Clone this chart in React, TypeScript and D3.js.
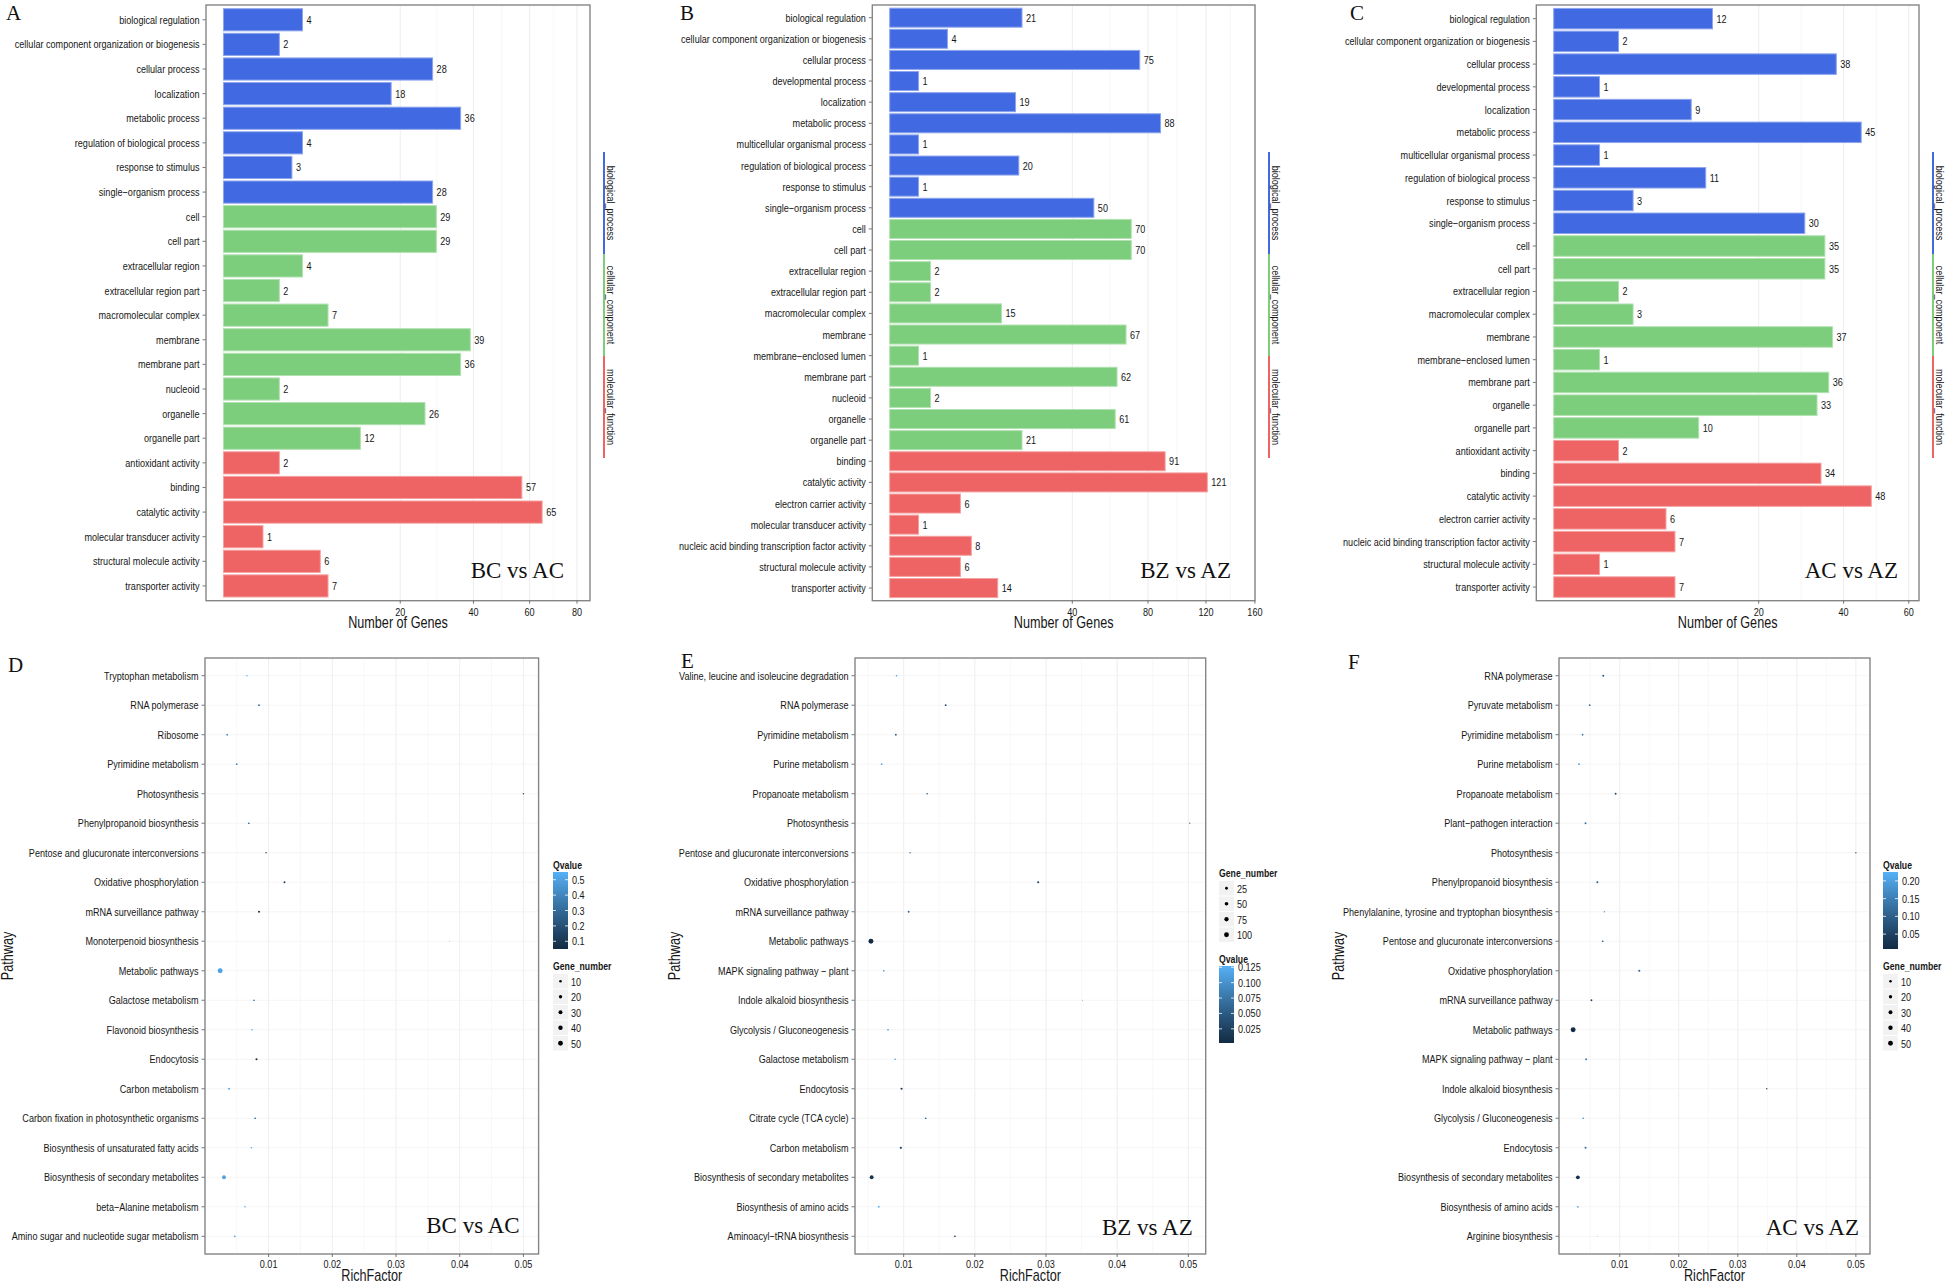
import React from "react";
import * as d3 from "d3";

const W = 1946;
const H = 1283;
const SANS = "'Liberation Sans', Arial, Helvetica, sans-serif";
const SERIF = "'Liberation Serif', 'Times New Roman', Times, serif";
const NARROW = 0.79; // the original labels are set in a condensed sans
const INK = "#161616";

const ONTOLOGY_COLOR: Record<string, string> = { BP: "#4169E1", CC: "#7CCD7C", MF: "#EE6363" };
const ONTOLOGY_NAMES = ["biological_process", "cellular_component", "molecular_function"];

// ---- GO classification, BC vs AC ----
const goTermsA = [
  "biological regulation", "cellular component organization or biogenesis", "cellular process",
  "localization", "metabolic process", "regulation of biological process", "response to stimulus",
  "single\u2212organism process", "cell", "cell part", "extracellular region", "extracellular region part",
  "macromolecular complex", "membrane", "membrane part", "nucleoid", "organelle", "organelle part",
  "antioxidant activity", "binding", "catalytic activity", "molecular transducer activity",
  "structural molecule activity", "transporter activity",
];
const goGenesA = [4, 2, 28, 18, 36, 4, 3, 28, 29, 29, 4, 2, 7, 39, 36, 2, 26, 12, 2, 57, 65, 1, 6, 7];
const goClassA = [
  "BP", "BP", "BP", "BP", "BP", "BP", "BP", "BP",
  "CC", "CC", "CC", "CC", "CC", "CC", "CC", "CC", "CC", "CC",
  "MF", "MF", "MF", "MF", "MF", "MF",
];
const goTicksA = [20, 40, 60, 80];

// ---- GO classification, BZ vs AZ ----
const goTermsB = [
  "biological regulation", "cellular component organization or biogenesis", "cellular process",
  "developmental process", "localization", "metabolic process", "multicellular organismal process",
  "regulation of biological process", "response to stimulus", "single\u2212organism process",
  "cell", "cell part", "extracellular region", "extracellular region part", "macromolecular complex",
  "membrane", "membrane\u2212enclosed lumen", "membrane part", "nucleoid", "organelle", "organelle part",
  "binding", "catalytic activity", "electron carrier activity", "molecular transducer activity",
  "nucleic acid binding transcription factor activity", "structural molecule activity", "transporter activity",
];
const goGenesB = [21, 4, 75, 1, 19, 88, 1, 20, 1, 50, 70, 70, 2, 2, 15, 67, 1, 62, 2, 61, 21, 91, 121, 6, 1, 8, 6, 14];
const goClassB = [
  "BP", "BP", "BP", "BP", "BP", "BP", "BP", "BP", "BP", "BP",
  "CC", "CC", "CC", "CC", "CC", "CC", "CC", "CC", "CC", "CC", "CC",
  "MF", "MF", "MF", "MF", "MF", "MF", "MF",
];
const goTicksB = [40, 80, 120, 160];

// ---- GO classification, AC vs AZ ----
const goTermsC = [
  "biological regulation", "cellular component organization or biogenesis", "cellular process",
  "developmental process", "localization", "metabolic process", "multicellular organismal process",
  "regulation of biological process", "response to stimulus", "single\u2212organism process",
  "cell", "cell part", "extracellular region", "macromolecular complex", "membrane",
  "membrane\u2212enclosed lumen", "membrane part", "organelle", "organelle part",
  "antioxidant activity", "binding", "catalytic activity", "electron carrier activity",
  "nucleic acid binding transcription factor activity", "structural molecule activity", "transporter activity",
];
const goGenesC = [12, 2, 38, 1, 9, 45, 1, 11, 3, 30, 35, 35, 2, 3, 37, 1, 36, 33, 10, 2, 34, 48, 6, 7, 1, 7];
const goClassC = [
  "BP", "BP", "BP", "BP", "BP", "BP", "BP", "BP", "BP", "BP",
  "CC", "CC", "CC", "CC", "CC", "CC", "CC", "CC", "CC",
  "MF", "MF", "MF", "MF", "MF", "MF", "MF",
];
const goTicksC = [20, 40, 60];

// ---- KEGG enrichment, BC vs AC ----
const pathwaysD = [
  "Tryptophan metabolism", "RNA polymerase", "Ribosome", "Pyrimidine metabolism", "Photosynthesis",
  "Phenylpropanoid biosynthesis", "Pentose and glucuronate interconversions", "Oxidative phosphorylation",
  "mRNA surveillance pathway", "Monoterpenoid biosynthesis", "Metabolic pathways", "Galactose metabolism",
  "Flavonoid biosynthesis", "Endocytosis", "Carbon metabolism", "Carbon fixation in photosynthetic organisms",
  "Biosynthesis of unsaturated fatty acids", "Biosynthesis of secondary metabolites",
  "beta\u2212Alanine metabolism", "Amino sugar and nucleotide sugar metabolism",
];
const richD = [0.0066, 0.0085, 0.0035, 0.005, 0.05, 0.0069, 0.0096, 0.0125, 0.0085, 0.0384,
  0.0024, 0.0077, 0.0074, 0.0081, 0.0038, 0.0079, 0.0073, 0.003, 0.0063, 0.0047];
const genesD = [2, 3, 4, 3, 2, 3, 2, 4, 5, 1, 52, 3, 2, 5, 4, 3, 2, 30, 2, 3];
const qvalD = [0.55, 0.25, 0.45, 0.4, 0.2, 0.3, 0.15, 0.12, 0.08, 0.55, 0.5, 0.35, 0.5, 0.05, 0.5, 0.3, 0.5, 0.5, 0.52, 0.48];
const qTicksD = [0.1, 0.2, 0.3, 0.4, 0.5];
const sizeTicksD = [10, 20, 30, 40, 50];

// ---- KEGG enrichment, BZ vs AZ ----
const pathwaysE = [
  "Valine, leucine and isoleucine degradation", "RNA polymerase", "Pyrimidine metabolism", "Purine metabolism",
  "Propanoate metabolism", "Photosynthesis", "Pentose and glucuronate interconversions",
  "Oxidative phosphorylation", "mRNA surveillance pathway", "Metabolic pathways",
  "MAPK signaling pathway \u2212 plant", "Indole alkaloid biosynthesis", "Glycolysis / Gluconeogenesis",
  "Galactose metabolism", "Endocytosis", "Citrate cycle (TCA cycle)", "Carbon metabolism",
  "Biosynthesis of secondary metabolites", "Biosynthesis of amino acids", "Aminoacyl\u2212tRNA biosynthesis",
];
const richE = [0.009, 0.0159, 0.0089, 0.0069, 0.0133, 0.0502, 0.0109, 0.0289, 0.0107, 0.0054,
  0.0072, 0.0351, 0.0078, 0.0088, 0.0097, 0.0131, 0.0096, 0.0055, 0.0065, 0.0172];
const genesE = [5, 7, 8, 6, 5, 3, 4, 10, 8, 105, 6, 2, 6, 5, 12, 6, 14, 58, 9, 7];
const qvalE = [0.11, 0.03, 0.06, 0.12, 0.05, 0.06, 0.07, 0.02, 0.06, 0.002, 0.11, 0.08, 0.1, 0.11, 0.02, 0.06, 0.03, 0.01, 0.127, 0.04];
const qTicksE = [0.025, 0.05, 0.075, 0.1, 0.125];
const sizeTicksE = [25, 50, 75, 100];

// ---- KEGG enrichment, AC vs AZ ----
const pathwaysF = [
  "RNA polymerase", "Pyruvate metabolism", "Pyrimidine metabolism", "Purine metabolism",
  "Propanoate metabolism", "Plant\u2212pathogen interaction", "Photosynthesis", "Phenylpropanoid biosynthesis",
  "Phenylalanine, tyrosine and tryptophan biosynthesis", "Pentose and glucuronate interconversions",
  "Oxidative phosphorylation", "mRNA surveillance pathway", "Metabolic pathways",
  "MAPK signaling pathway \u2212 plant", "Indole alkaloid biosynthesis", "Glycolysis / Gluconeogenesis",
  "Endocytosis", "Biosynthesis of secondary metabolites", "Biosynthesis of amino acids", "Arginine biosynthesis",
];
const richF = [0.0072, 0.0049, 0.0037, 0.0031, 0.0093, 0.0042, 0.05, 0.0062, 0.0074, 0.0071,
  0.0133, 0.0052, 0.0021, 0.0043, 0.0349, 0.0038, 0.0042, 0.0029, 0.0029, 0.0062];
const genesF = [4, 3, 3, 3, 4, 4, 2, 5, 2, 3, 6, 4, 52, 5, 2, 3, 5, 28, 3, 1];
const qvalF = [0.08, 0.12, 0.12, 0.2, 0.06, 0.12, 0.1, 0.1, 0.2, 0.09, 0.12, 0.05, 0.008, 0.15, 0.06, 0.2, 0.12, 0.02, 0.2, 0.225];
const qTicksF = [0.05, 0.1, 0.15, 0.2];
const sizeTicksF = [10, 20, 30, 40, 50];

const richTicks = [0.01, 0.02, 0.03, 0.04, 0.05];
const richMinor = [0.005, 0.015, 0.025, 0.035, 0.045];

function NText({ x, y, anchor = "start", size = 11.5, weight = "normal", fill = INK, rotate = 0, children }: any) {
  return (
    <text
      transform={`translate(${x},${y}) rotate(${rotate}) scale(${NARROW},1)`}
      textAnchor={anchor}
      fontFamily={SANS}
      fontSize={size}
      fontWeight={weight}
      fill={fill}
    >
      {children}
    </text>
  );
}

function GoBarPanel({ letter, letterAt, box, terms, genes, classes, ticks, tag, tagAt }: any) {
  const { left, right, top, bottom } = box;
  const y = d3.scaleBand().domain(terms).range([top, bottom]).paddingInner(0.1).paddingOuter(0.15);
  // sqrt axis, upper limit 1.2 x max, 5% expansion on each side
  const pad = ((right - left) * 0.05) / 1.1;
  const x = d3.scaleSqrt().domain([0, (d3.max(genes) as number) * 1.2]).range([left + pad, right - pad]);
  const minor = ticks.slice(1).map((t: number, i: number) => Math.pow((Math.sqrt(ticks[i]) + Math.sqrt(t)) / 2, 2));
  const stripX = right + 14;
  const stripTop = 152;
  const stripLen = 102;

  return (
    <g>
      <text x={letterAt[0]} y={letterAt[1]} fontFamily={SERIF} fontSize={21} fill="#111">{letter}</text>

      {minor.map((m: number) => (
        <line key={"mn" + m} x1={x(m)} x2={x(m)} y1={top} y2={bottom} stroke="#f4f4f4" strokeWidth={0.7} />
      ))}
      {ticks.map((t: number) => (
        <line key={"mj" + t} x1={x(t)} x2={x(t)} y1={top} y2={bottom} stroke="#ebebeb" strokeWidth={0.9} />
      ))}

      {terms.map((t: string, i: number) => {
        const c = ONTOLOGY_COLOR[classes[i]];
        const yc = (y(t) as number) + y.bandwidth() / 2;
        return (
          <g key={t}>
            <rect
              x={x(0)}
              y={y(t)}
              width={x(genes[i]) - x(0)}
              height={y.bandwidth()}
              fill={c}
              stroke={d3.interpolateRgb(c, "#ffffff")(0.4)}
              strokeWidth={1}
            />
            <NText x={x(genes[i]) + 4} y={yc + 4}>{genes[i]}</NText>
            <line x1={left - 3.5} x2={left} y1={yc} y2={yc} stroke="#555" strokeWidth={0.8} />
            <NText x={left - 6.5} y={yc + 4} anchor="end">{t}</NText>
          </g>
        );
      })}

      <rect x={left} y={top} width={right - left} height={bottom - top} fill="none" stroke="#858585" strokeWidth={1.4} />

      {ticks.map((t: number) => (
        <g key={"tk" + t}>
          <line x1={x(t)} x2={x(t)} y1={bottom} y2={bottom + 3} stroke="#555" strokeWidth={0.8} />
          <NText x={x(t)} y={bottom + 15} anchor="middle">{t}</NText>
        </g>
      ))}
      <NText x={(left + right) / 2} y={628} anchor="middle" size={16}>Number of Genes</NText>

      {ONTOLOGY_NAMES.map((name, i) => (
        <g key={name}>
          <line
            x1={stripX}
            x2={stripX}
            y1={stripTop + i * stripLen}
            y2={stripTop + (i + 1) * stripLen}
            stroke={ONTOLOGY_COLOR[["BP", "CC", "MF"][i]]}
            strokeWidth={2}
          />
          <NText x={stripX + 3} y={stripTop + (i + 0.5) * stripLen} anchor="middle" rotate={90}>{name}</NText>
        </g>
      ))}

      <text x={tagAt[0]} y={tagAt[1]} textAnchor="end" fontFamily={SERIF} fontSize={23} fill="#111">{tag}</text>
    </g>
  );
}

function KeggDotPanel({
  letter, letterAt, box, pathways, rich, genes, qvals, qTicks, qFormat, sizeTicks,
  legendX, qFirst, tag, tagAt, pathwayX,
}: any) {
  const { left, right, top, bottom } = box;
  const y = d3.scalePoint().domain(pathways).range([top, bottom]).padding(0.6);
  const [rLo, rHi] = d3.extent(rich) as [number, number];
  const span = rHi - rLo;
  const x = d3.scaleLinear().domain([rLo - 0.05 * span, rHi + 0.05 * span]).range([left, right]);
  const [gLo, gHi] = d3.extent(genes) as [number, number];
  const area = d3.scaleSqrt().domain([0, gHi - gLo]).range([0.45, 2.45]);
  const radius = (v: number) => area(Math.max(0, v - gLo));
  const [qLo, qHi] = d3.extent(qvals) as [number, number];
  const color = d3.scaleLinear<string>().domain([qLo, qHi]).range(["#132B43", "#56B1F7"]).interpolate(d3.interpolateLab).clamp(true);
  const fmt = d3.format(qFormat);
  const inDomain = (v: number) => x(v) >= left && x(v) <= right;

  const qTitleY = qFirst ? 869 : 963;
  const sTitleY = qFirst ? 970 : 877;
  const cbTop = qTitleY + 3;
  const cbH = 77;
  const cbW = 15;
  const cb = d3.scaleLinear().domain([qLo, qHi]).range([cbTop + cbH, cbTop]);
  const gradId = "qgrad" + letter;
  const stops = d3.range(0, 1.0001, 0.1);

  return (
    <g>
      <text x={letterAt[0]} y={letterAt[1]} fontFamily={SERIF} fontSize={21} fill="#111">{letter}</text>

      {richMinor.filter(inDomain).map((m) => (
        <line key={"mn" + m} x1={x(m)} x2={x(m)} y1={top} y2={bottom} stroke="#f5f5f5" strokeWidth={0.7} />
      ))}
      {richTicks.filter(inDomain).map((t) => (
        <line key={"mj" + t} x1={x(t)} x2={x(t)} y1={top} y2={bottom} stroke="#ececec" strokeWidth={0.9} />
      ))}
      {pathways.map((p: string) => (
        <line key={"h" + p} x1={left} x2={right} y1={y(p)} y2={y(p)} stroke="#f3f3f3" strokeWidth={0.8} />
      ))}

      {pathways.map((p: string, i: number) => (
        <g key={p}>
          <circle cx={x(rich[i])} cy={y(p)} r={radius(genes[i])} fill={color(qvals[i])} />
          <line x1={left - 3.5} x2={left} y1={y(p)} y2={y(p)} stroke="#555" strokeWidth={0.8} />
          <NText x={left - 6.5} y={(y(p) as number) + 4} anchor="end">{p}</NText>
        </g>
      ))}

      <rect x={left} y={top} width={right - left} height={bottom - top} fill="none" stroke="#858585" strokeWidth={1.4} />

      {richTicks.filter(inDomain).map((t) => (
        <g key={"tk" + t}>
          <line x1={x(t)} x2={x(t)} y1={bottom} y2={bottom + 3} stroke="#555" strokeWidth={0.8} />
          <NText x={x(t)} y={bottom + 14} anchor="middle">{d3.format(".2f")(t)}</NText>
        </g>
      ))}
      <NText x={(left + right) / 2} y={1281} anchor="middle" size={16}>RichFactor</NText>
      <NText x={pathwayX} y={(top + bottom) / 2} anchor="middle" size={16} rotate={-90}>Pathway</NText>

      {/* Qvalue colour bar */}
      <defs>
        <linearGradient id={gradId} x1="0" y1="1" x2="0" y2="0">
          {stops.map((s) => (
            <stop key={s} offset={s} stopColor={color(qLo + s * (qHi - qLo))} />
          ))}
        </linearGradient>
      </defs>
      <NText x={legendX} y={qTitleY} size={11} weight="bold">Qvalue</NText>
      <rect x={legendX} y={cbTop} width={cbW} height={cbH} fill={`url(#${gradId})`} />
      {qTicks.map((t: number) => (
        <g key={"q" + t}>
          <line x1={legendX} x2={legendX + 3} y1={cb(t)} y2={cb(t)} stroke="#fff" strokeWidth={0.8} />
          <line x1={legendX + cbW - 3} x2={legendX + cbW} y1={cb(t)} y2={cb(t)} stroke="#fff" strokeWidth={0.8} />
          <NText x={legendX + 19} y={cb(t) + 4}>{fmt(t)}</NText>
        </g>
      ))}

      {/* Gene_number size legend */}
      <NText x={legendX} y={sTitleY} size={11} weight="bold">Gene_number</NText>
      {sizeTicks.map((s: number, i: number) => {
        const ky = sTitleY + 4 + i * 15.5;
        return (
          <g key={"s" + s}>
            <rect x={legendX} y={ky} width={15} height={14.5} fill="#f2f2f2" />
            <circle cx={legendX + 7.5} cy={ky + 7.25} r={radius(s)} fill="#000" />
            <NText x={legendX + 18} y={ky + 11.5}>{s}</NText>
          </g>
        );
      })}

      <text x={tagAt[0]} y={tagAt[1]} textAnchor="end" fontFamily={SERIF} fontSize={23} fill="#111">{tag}</text>
    </g>
  );
}

export default function App() {
  return (
    <svg
      width={W}
      height={H}
      viewBox={`0 0 ${W} ${H}`}
      style={{ position: "absolute", left: 0, top: 0, display: "block", background: "#fff" }}
    >
      <rect width={W} height={H} fill="#fff" />
      <GoBarPanel
        letter="A" letterAt={[6, 20]} box={{ left: 206, right: 590, top: 5, bottom: 600.7 }}
        terms={goTermsA} genes={goGenesA} classes={goClassA} ticks={goTicksA}
        tag="BC vs AC" tagAt={[564, 578]}
      />
      <GoBarPanel
        letter="B" letterAt={[680, 20]} box={{ left: 872.3, right: 1255, top: 5, bottom: 600.7 }}
        terms={goTermsB} genes={goGenesB} classes={goClassB} ticks={goTicksB}
        tag="BZ vs AZ" tagAt={[1231, 578]}
      />
      <GoBarPanel
        letter="C" letterAt={[1350, 20]} box={{ left: 1536.3, right: 1919, top: 5, bottom: 600.7 }}
        terms={goTermsC} genes={goGenesC} classes={goClassC} ticks={goTicksC}
        tag="AC vs AZ" tagAt={[1898, 578]}
      />
      <KeggDotPanel
        letter="D" letterAt={[8, 672]} box={{ left: 205, right: 538.6, top: 658, bottom: 1254 }}
        pathways={pathwaysD} rich={richD} genes={genesD} qvals={qvalD}
        qTicks={qTicksD} qFormat=".1f" sizeTicks={sizeTicksD} legendX={553} qFirst={true}
        tag="BC vs AC" tagAt={[519.6, 1233]} pathwayX={13}
      />
      <KeggDotPanel
        letter="E" letterAt={[681, 668]} box={{ left: 855, right: 1205.7, top: 658, bottom: 1254 }}
        pathways={pathwaysE} rich={richE} genes={genesE} qvals={qvalE}
        qTicks={qTicksE} qFormat=".3f" sizeTicks={sizeTicksE} legendX={1219} qFirst={false}
        tag="BZ vs AZ" tagAt={[1192.7, 1235]} pathwayX={680}
      />
      <KeggDotPanel
        letter="F" letterAt={[1348, 669]} box={{ left: 1559, right: 1870, top: 658, bottom: 1254 }}
        pathways={pathwaysF} rich={richF} genes={genesF} qvals={qvalF}
        qTicks={qTicksF} qFormat=".2f" sizeTicks={sizeTicksF} legendX={1883} qFirst={true}
        tag="AC vs AZ" tagAt={[1859, 1235]} pathwayX={1344}
      />
    </svg>
  );
}
